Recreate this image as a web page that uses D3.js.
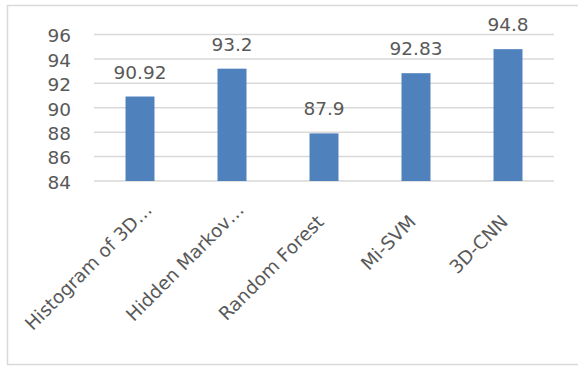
<!DOCTYPE html>
<html lang="en">
<head>
  <meta charset="UTF-8">
  <title>Accuracy by method</title>
  <style>
    body { margin: 0; background: #fff; }
    svg text { font-family: "DejaVu Sans", sans-serif; fill: #595959; }
  </style>
</head>
<body>
  <svg id="chart" width="578" height="368"></svg>

  <script src="https://d3js.org/d3.v7.min.js"></script>
  <script>
    const methods = ["Histogram of 3D…", "Hidden Markov…", "Random Forest", "Mi-SVM", "3D-CNN"];
    const accuracy = [90.92, 93.2, 87.9, 92.83, 94.8];
    const yTicks = [84, 86, 88, 90, 92, 94, 96];

    const svg = d3.select("#chart");

    // outer chart frame (right side runs off the picture)
    svg.append("rect")
      .attr("x", 7.5).attr("y", 5.5)
      .attr("width", 580).attr("height", 359)
      .attr("fill", "none")
      .attr("stroke", "#d9d9d9")
      .attr("stroke-width", 1.5);

    const plotLeft = 94, plotRight = 554, plotTop = 34.5, plotBottom = 181;

    const x = d3.scaleBand()
      .domain(methods)
      .range([plotLeft, plotRight])
      .paddingInner(0.685)
      .paddingOuter(0.3425);

    const y = d3.scaleLinear()
      .domain([84, 96])
      .range([plotBottom, plotTop]);

    // gridlines
    svg.append("g")
      .selectAll("line")
      .data(yTicks)
      .enter()
      .append("line")
      .attr("x1", plotLeft).attr("x2", plotRight)
      .attr("y1", d => y(d)).attr("y2", d => y(d))
      .attr("stroke", "#d9d9d9")
      .attr("stroke-width", 1.5);

    // y axis labels
    const yAxis = svg.append("g")
      .attr("transform", "translate(71,0)")
      .call(d3.axisLeft(y).tickValues(yTicks).tickSize(0).tickPadding(0));
    yAxis.select(".domain").remove();
    yAxis.selectAll("text")
      .attr("dy", "0.4em")
      .style("font-size", "18.5px")
      .attr("fill", "#595959");

    // bars
    svg.append("g")
      .selectAll("rect")
      .data(accuracy)
      .enter()
      .append("rect")
      .attr("x", (d, i) => x(methods[i]))
      .attr("y", d => y(d))
      .attr("width", x.bandwidth())
      .attr("height", d => y(84) - y(d))
      .attr("fill", "#4f81bd");

    // value labels
    svg.append("g")
      .selectAll("text")
      .data(accuracy)
      .enter()
      .append("text")
      .attr("x", (d, i) => x(methods[i]) + x.bandwidth() / 2)
      .attr("y", d => y(d) - 18)
      .attr("text-anchor", "middle")
      .style("font-size", "18.5px")
      .text(d => d);

    // category labels, rotated
    svg.append("g")
      .selectAll("text")
      .data(methods)
      .enter()
      .append("text")
      .attr("transform", d => {
        const cx = x(d) + x.bandwidth() / 2 + 1;
        return `translate(${cx},223) rotate(-45)`;
      })
      .attr("x", d => d.endsWith("…") ? 17 : 0)
      .attr("text-anchor", "end")
      .style("font-size", "18.5px")
      .text(d => d);
  </script>
</body>
</html>
